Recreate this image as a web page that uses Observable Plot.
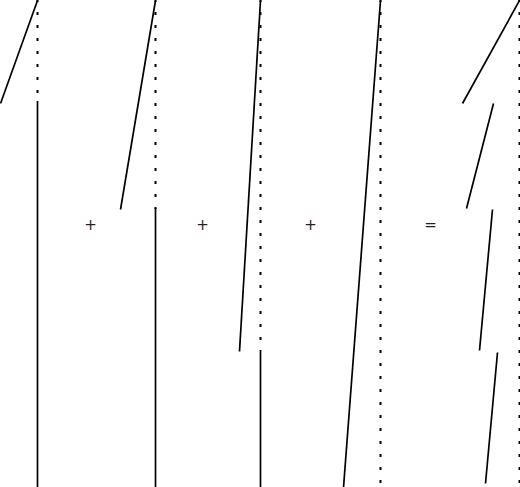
<!DOCTYPE html>
<html>
<head>
<meta charset="utf-8">
<script src="https://cdn.jsdelivr.net/npm/d3@7"></script>
<script src="https://cdn.jsdelivr.net/npm/@observablehq/plot@0.6"></script>
<style>
  html, body { margin: 0; padding: 0; background: #fff; }
</style>
</head>
<body>
<div id="chart"></div>
<script>
// Sloped pieces of each function (x = value, y = vertical parameter, 0 at top)
const slopeX1 = [0, 120, 239, 343, 462, 466, 479, 485];
const slopeY1 = [103, 209, 351, 487, 103, 208, 350, 483];
const slopeX2 = [37, 155, 260, 380, 519, 493, 492, 497];
const slopeY2 = [0, 0, 0, 0, 0, 103, 209, 352];

// Dotted jump guides
const jumpX = [37, 155, 260, 380, 519];
const jumpTop = [0, 0, 0, 0, 0];
const jumpBottom = [103, 209, 351, 487, 487];

// Constant (vertical solid) pieces
const flatX = [37, 155, 260];
const flatTop = [101, 208, 351];
const flatBottom = [487, 487, 487];

// Operators between panels
const opX = [90, 202, 310, 430];
const opY = [225, 225, 225, 225];
const opLabel = ["+", "+", "+", "="];

const slopes = slopeX1.map((x1, i) => ({x1, y1: slopeY1[i], x2: slopeX2[i], y2: slopeY2[i]}));
const jumps = jumpX.map((x, i) => ({x, y1: jumpTop[i], y2: jumpBottom[i]}));
const flats = flatX.map((x, i) => ({x, y1: flatTop[i], y2: flatBottom[i]}));
const ops = opX.map((x, i) => ({x, y: opY[i], s: opLabel[i]}));

const chart = Plot.plot({
  width: 520,
  height: 487,
  margin: 0,
  x: {domain: [0, 520], axis: null},
  y: {domain: [0, 487], reverse: true, axis: null},
  marks: [
    Plot.ruleX(jumps, {x: "x", y1: "y1", y2: "y2", stroke: "#000", strokeWidth: 2, strokeDasharray: "3,10", strokeDashoffset: 1}),
    Plot.ruleX(flats, {x: "x", y1: "y1", y2: "y2", stroke: "#000", strokeWidth: 1.7}),
    Plot.link(slopes, {x1: "x1", y1: "y1", x2: "x2", y2: "y2", stroke: "#000", strokeWidth: 1.7}),
    Plot.text(ops, {x: "x", y: "y", text: "s", fontSize: 15, fontFamily: "DejaVu Sans", fill: "#222"})
  ]
});
document.getElementById("chart").appendChild(chart);
</script>
</body>
</html>
